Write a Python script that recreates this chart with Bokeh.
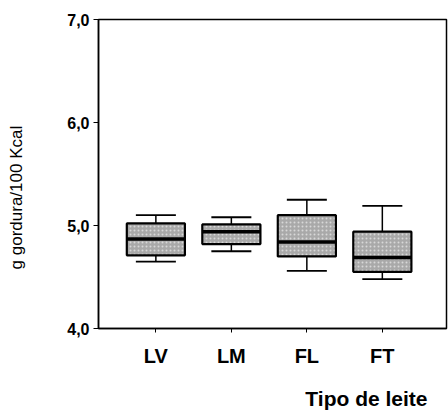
import math
from bokeh.plotting import figure
from bokeh.models import ColumnDataSource, Range1d, FixedTicker, Title
from bokeh.transform import dodge
from bokeh.embed import file_html
from bokeh.resources import INLINE

categories = ["LV", "LM", "FL", "FT"]
whisker_low = [4.65, 4.75, 4.56, 4.48]
q1 = [4.71, 4.82, 4.70, 4.55]
median = [4.87, 4.94, 4.84, 4.69]
q3 = [5.02, 5.01, 5.10, 4.94]
whisker_high = [5.10, 5.08, 5.25, 5.19]
y_ticks = [4.0, 5.0, 6.0, 7.0]
y_tick_labels = ["4,0", "5,0", "6,0", "7,0"]

xs = list(range(1, len(categories) + 1))
src = ColumnDataSource(dict(x=xs, lo=whisker_low, q1=q1, med=median, q3=q3, hi=whisker_high))

BOX_W = 0.77
CAP_W = 0.53

p = figure(width=448, height=410, output_backend="svg", toolbar_location=None,
           x_range=Range1d(0.24, 4.85), y_range=Range1d(4.0, 7.0),
           min_border_left=98, min_border_right=2, min_border_top=19, min_border_bottom=82)
p.background_fill_color = "white"
p.border_fill_color = "white"
p.outline_line_color = "black"
p.outline_line_width = 1.5
p.xgrid.visible = False
p.ygrid.visible = False

# whisker stems
p.segment(x0="x", y0="lo", x1="x", y1="q1", source=src, line_color="black", line_width=1.5)
p.segment(x0="x", y0="q3", x1="x", y1="hi", source=src, line_color="black", line_width=1.5)
# caps
p.segment(x0=dodge("x", -CAP_W / 2), y0="lo", x1=dodge("x", CAP_W / 2), y1="lo", source=src,
          line_color="black", line_width=1.8)
p.segment(x0=dodge("x", -CAP_W / 2), y0="hi", x1=dodge("x", CAP_W / 2), y1="hi", source=src,
          line_color="black", line_width=1.8)
# boxes
p.vbar(x="x", width=BOX_W, bottom="q1", top="q3", source=src, fill_color="#a9a9a9",
       line_color="black", line_width=2.2, hatch_pattern="dot", hatch_color="#d8d8d8",
       hatch_scale=4, hatch_weight=1)
# medians
p.segment(x0=dodge("x", -BOX_W / 2), y0="med", x1=dodge("x", BOX_W / 2), y1="med", source=src,
          line_color="black", line_width=3.5)

# axes
p.xaxis.ticker = FixedTicker(ticks=xs)
p.xaxis.major_label_overrides = {i: c for i, c in zip(xs, categories)}
p.xaxis.major_label_text_font = "Liberation Sans"
p.xaxis.major_label_text_font_style = "bold"
p.xaxis.major_label_text_font_size = "20px"
p.xaxis.major_label_text_color = "black"
p.xaxis.major_label_standoff = 12
p.xaxis.major_tick_in = 0
p.xaxis.major_tick_out = 4
p.xaxis.minor_tick_line_color = None
p.xaxis.axis_line_width = 1.5
p.xaxis.axis_label = "\u00a0"
p.xaxis.axis_label_text_font_size = "9px"
p.xaxis.axis_label_standoff = 1

p.yaxis.ticker = FixedTicker(ticks=y_ticks)
p.yaxis.major_label_overrides = {t: l for t, l in zip(y_ticks, y_tick_labels)}
p.yaxis.major_label_text_font = "Liberation Sans"
p.yaxis.major_label_text_font_style = "bold"
p.yaxis.major_label_text_font_size = "16px"
p.yaxis.major_label_text_color = "black"
p.yaxis.major_label_standoff = 4
p.yaxis.major_tick_in = 0
p.yaxis.major_tick_out = 5
p.yaxis.minor_tick_line_color = None
p.yaxis.axis_line_width = 1.5
p.yaxis.axis_label = "g gordura/100 Kcal" + "\u00a0" * 10
p.yaxis.axis_label_text_font = "Liberation Sans"
p.yaxis.axis_label_text_font_style = "normal"
p.yaxis.axis_label_text_font_size = "17px"
p.yaxis.axis_label_text_color = "black"
p.yaxis.axis_label_standoff = 38

t = Title(text="Tipo de leite", align="right", text_font="Liberation Sans",
          text_font_style="bold", text_font_size="21px", text_color="black", offset=19,
          standoff=2)
p.add_layout(t, "below")

open("out.html", "w").write(file_html(p, INLINE))
